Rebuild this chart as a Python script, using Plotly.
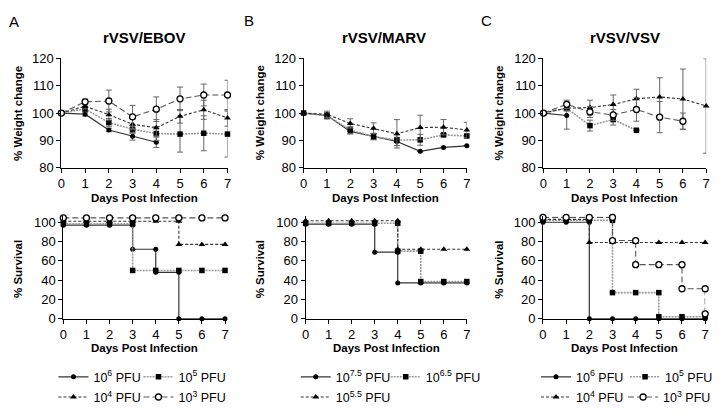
import plotly.graph_objects as go

# days on the x axis
days = [0, 1, 2, 3, 4, 5, 6, 7]

# ---- weight change (%), panel A rVSV/EBOV
a_w_e6 = [100, 99.6, 93.8, 91.5, 89.3]
a_w_e6_err = [0, 0.7, 0.6, 1.4, 1.9]
a_w_e5 = [100, 101.5, 96.5, 94.1, 92.5, 92.3, 92.6, 92.3]
a_w_e5_err = [0, 1.0, 1.5, 1.5, 2.5, 6.6, 6.4, 8.4]
a_w_e4 = [100, 102.5, 99.4, 95.9, 94.6, 98.8, 101.2, 98.2]
a_w_e4_err = [0, 1.0, 2.0, 2.0, 3.0, 2.5, 3.5, 3.0]
a_w_e3 = [100, 104.1, 104.4, 98.6, 101.4, 105.2, 106.6, 106.6]
a_w_e3_err = [0, 1.0, 4.0, 4.2, 4.5, 4.3, 4.0, 5.4]

# ---- weight change (%), panel B rVSV/MARV
b_w_e75 = [100, 99.1, 93.3, 91.4, 89.6, 86.0, 87.4, 88.0]
b_w_e75_err = [0, 1.0, 1.0, 1.0, 1.5, 0, 0, 0]
b_w_e65 = [100, 99.0, 93.8, 91.4, 90.1, 90.2, 92.0, 91.6]
b_w_e65_err = [0, 1.2, 1.2, 1.2, 2.0, 2.0, 0.5, 0.5]
b_w_e55 = [100, 99.5, 96.2, 94.4, 92.4, 94.7, 94.8, 93.8]
b_w_e55_err = [0, 1.2, 1.7, 2.0, 5.2, 4.5, 2.8, 2.8]

# ---- weight change (%), panel C rVSV/VSV
c_w_e6 = [100, 99.1]
c_w_e6_err = [0, 5.0]
c_w_e5 = [100, 101.8, 95.4, 97.6, 93.7]
c_w_e5_err = [0, 1.0, 2.0, 2.0, 0]
c_w_e4 = [100, 101.8, 102.0, 103.1, 105.2, 105.9, 105.1, 102.6]
c_w_e4_err = [0, 1.0, 2.7, 3.5, 3.5, 7.0, 11.0, 17.3]
c_w_e3 = [100, 103.2, 100.4, 99.3, 101.3, 98.5, 97.0]
c_w_e3_err = [0, 1.5, 2.0, 2.0, 4.3, 5.7, 3.0]

# ---- survival (%), step points (repeated day = drop)
a_s_e6_x = [0, 1, 2, 3, 3, 4, 4, 5, 5, 6, 7]
a_s_e6 = [97, 97, 97, 97, 72, 72, 48, 48, 0, 0, 0]
a_s_e5_x = [0, 1, 2, 3, 3, 4, 5, 6, 7]
a_s_e5 = [98.5, 98.5, 98.5, 98.5, 50, 50, 50, 50, 50]
a_s_e4_x = [0, 1, 2, 3, 4, 5, 5, 6, 7]
a_s_e4 = [101, 101, 101, 101, 101, 101, 77, 77, 77]
a_s_e3_x = [0, 1, 2, 3, 4, 5, 6, 7]
a_s_e3 = [104.5, 104.5, 104.5, 104.5, 104.5, 104.5, 104.5, 104.5]

b_s_e75_x = [0, 1, 2, 3, 3, 4, 4, 5, 6, 7]
b_s_e75 = [98, 98, 98, 98, 69, 69, 37, 37, 37, 37]
b_s_e65_x = [0, 1, 2, 3, 4, 4, 5, 5, 6, 7]
b_s_e65 = [99, 99, 99, 99, 99, 70, 70, 38.5, 38.5, 38.5]
b_s_e55_x = [0, 1, 2, 3, 4, 4, 5, 6, 7]
b_s_e55 = [101.5, 101.5, 101.5, 101.5, 101.5, 72, 72, 72, 72]

c_s_e6_x = [0, 1, 2, 2, 3, 4, 5, 6, 7]
c_s_e6 = [100, 100, 100, 0, 0, 0, 0, 0, 0]
c_s_e5_x = [0, 1, 2, 3, 3, 4, 5, 5, 6, 7]
c_s_e5 = [102, 102, 102, 102, 27, 27, 27, 2, 2, 2]
c_s_e4_x = [0, 1, 2, 2, 3, 4, 5, 6, 7]
c_s_e4 = [103, 103, 103, 79, 79, 79, 79, 79, 79]
c_s_e3_x = [0, 1, 2, 3, 3, 4, 4, 5, 6, 6, 7, 7]
c_s_e3 = [105, 105, 105, 105, 81, 81, 56, 56, 56, 31, 31, 5]

# legend labels
lab_a = ["10<sup>6</sup> PFU", "10<sup>5</sup> PFU", "10<sup>4</sup> PFU", "10<sup>3</sup> PFU"]
lab_b = ["10<sup>7.5</sup> PFU", "10<sup>6.5</sup> PFU", "10<sup>5.5</sup> PFU"]
lab_c = ["10<sup>6</sup> PFU", "10<sup>5</sup> PFU", "10<sup>4</sup> PFU", "10<sup>3</sup> PFU"]

W, H = 724, 416
FONT = "Arial, Liberation Sans, sans-serif"

# line/marker style per dose level (solid+dot, dotted+square, short dash+triangle, dash+open circle)
STYLES = [
    dict(line=dict(color="#333333", width=1.2, dash="solid"),
         marker=dict(symbol="circle", size=5, color="black")),
    dict(line=dict(color="#9a9a9a", width=1.6, dash="2px,1px"),
         marker=dict(symbol="square", size=5.5, color="black")),
    dict(line=dict(color="#333333", width=1.1, dash="3px,2px"),
         marker=dict(symbol="triangle-up", size=6, color="black")),
    dict(line=dict(color="#555555", width=1.1, dash="6px,3px"),
         marker=dict(symbol="circle", size=6, color="white", line=dict(color="black", width=1.3))),
]


def xdom(a, b):
    return [a / W, b / W]


def ydom(top, bottom):
    return [1 - bottom / H, 1 - top / H]


fig = go.Figure()


def weight(series, errs, ax):
    for i, (ys, er) in enumerate(zip(series, errs)):
        st = STYLES[i]
        fig.add_trace(go.Scatter(
            x=days[:len(ys)], y=ys, mode="lines+markers", showlegend=False,
            line=st["line"], marker=st["marker"], cliponaxis=False,
            error_y=dict(type="data", array=er, color="#666666", thickness=1, width=3),
            xaxis="x" + ax, yaxis="y" + ax))


# one small legend per entry: (left px, centre y px)
leg_pos = {}


def survival(xs, series, labels, ax, spots):
    for i, (xx, ys) in enumerate(zip(xs, series)):
        st = STYLES[i]
        name = "legend" if not leg_pos else "legend%d" % (len(leg_pos) + 1)
        leg_pos[name] = spots[i]
        fig.add_trace(go.Scatter(
            x=xx, y=ys, mode="lines+markers", name=labels[i],
            line=st["line"], marker=st["marker"], cliponaxis=False,
            legend=name, xaxis="x" + ax, yaxis="y" + ax))


weight([a_w_e6, a_w_e5, a_w_e4, a_w_e3], [a_w_e6_err, a_w_e5_err, a_w_e4_err, a_w_e3_err], "")
weight([b_w_e75, b_w_e65, b_w_e55], [b_w_e75_err, b_w_e65_err, b_w_e55_err], "2")
weight([c_w_e6, c_w_e5, c_w_e4, c_w_e3], [c_w_e6_err, c_w_e5_err, c_w_e4_err, c_w_e3_err], "3")
survival([a_s_e6_x, a_s_e5_x, a_s_e4_x, a_s_e3_x], [a_s_e6, a_s_e5, a_s_e4, a_s_e3], lab_a, "4",
         [(50, 384), (136, 384), (50, 405), (136, 405)])
survival([b_s_e75_x, b_s_e65_x, b_s_e55_x], [b_s_e75, b_s_e65, b_s_e55], lab_b, "5",
         [(295, 384), (386, 384), (295, 405)])
survival([c_s_e6_x, c_s_e5_x, c_s_e4_x, c_s_e3_x], [c_s_e6, c_s_e5, c_s_e4, c_s_e3], lab_c, "6",
         [(538, 384), (628, 384), (538, 405), (626, 405)])

axis_common = dict(showline=True, linecolor="black", linewidth=1, ticks="outside", ticklen=4,
                   tickcolor="black", showgrid=False, zeroline=False,
                   tickfont=dict(family=FONT, size=13, color="black"))

top_x = [(58, 226), (303, 468), (545.5, 710)]
bot_x = [(60, 223.5), (305, 468), (545, 709)]
layout_axes = {}
for i in range(3):
    n = "" if i == 0 else str(i + 1)
    layout_axes["xaxis" + n] = dict(axis_common, domain=xdom(*top_x[i]), range=[0, 7], dtick=1,
                                    anchor="y" + n)
    layout_axes["yaxis" + n] = dict(axis_common, domain=ydom(53.3, 166.7), range=[80, 120], dtick=10,
                                    anchor="x" + n)
    m = str(i + 4)
    layout_axes["xaxis" + m] = dict(axis_common, domain=xdom(*bot_x[i]), range=[0, 7], dtick=1,
                                    anchor="y" + m)
    layout_axes["yaxis" + m] = dict(axis_common, domain=ydom(217.3, 323.3), range=[0, 106],
                                    tickvals=[0, 20, 40, 60, 80, 100], anchor="x" + m)

fig.update_layout(**layout_axes)


def note(txt, x, y, size, angle=0):
    return dict(text=txt, x=x / W, y=1 - y / H, xref="paper", yref="paper", showarrow=False,
                xanchor="center", yanchor="middle", textangle=angle,
                font=dict(family=FONT, size=size, color="black"))


ann = []
for txt, x, y in [("A", 10, 15), ("B", 248, 14), ("C", 488, 14)]:
    ann.append(note(txt, x, y, 15))
for txt, x in [("rVSV/EBOV", 142.5), ("rVSV/MARV", 384), ("rVSV/VSV", 627.5)]:
    ann.append(note("<b>%s</b>" % txt, x, 32, 15))
for a, b in top_x:
    ann.append(note("<b>Days Post Infection</b>", (a + b) / 2, 198, 11.5))
for a, b in bot_x:
    ann.append(note("<b>Days Post Infection</b>", (a + b) / 2, 354, 11.5))
for x in [14, 259, 501]:
    ann.append(note("<b>% Weight change</b>", x, 110, 11.5, -90))
    ann.append(note("<b>% Survival</b>", x, 272, 11.5, -90))

legends = {}
for name, (lx, ly) in leg_pos.items():
    legends[name] = dict(orientation="h", xanchor="left", yanchor="middle", bgcolor="rgba(0,0,0,0)",
                         font=dict(family=FONT, size=12.5, color="black"), itemwidth=30,
                         x=lx / W, y=1 - ly / H)

fig.update_layout(
    width=W, height=H, margin=dict(l=0, r=0, t=0, b=0),
    paper_bgcolor="white", plot_bgcolor="white", annotations=ann, **legends)

fig.write_html("out.html", config={"displayModeBar": False},
               post_script="document.body.style.margin='0px';")
